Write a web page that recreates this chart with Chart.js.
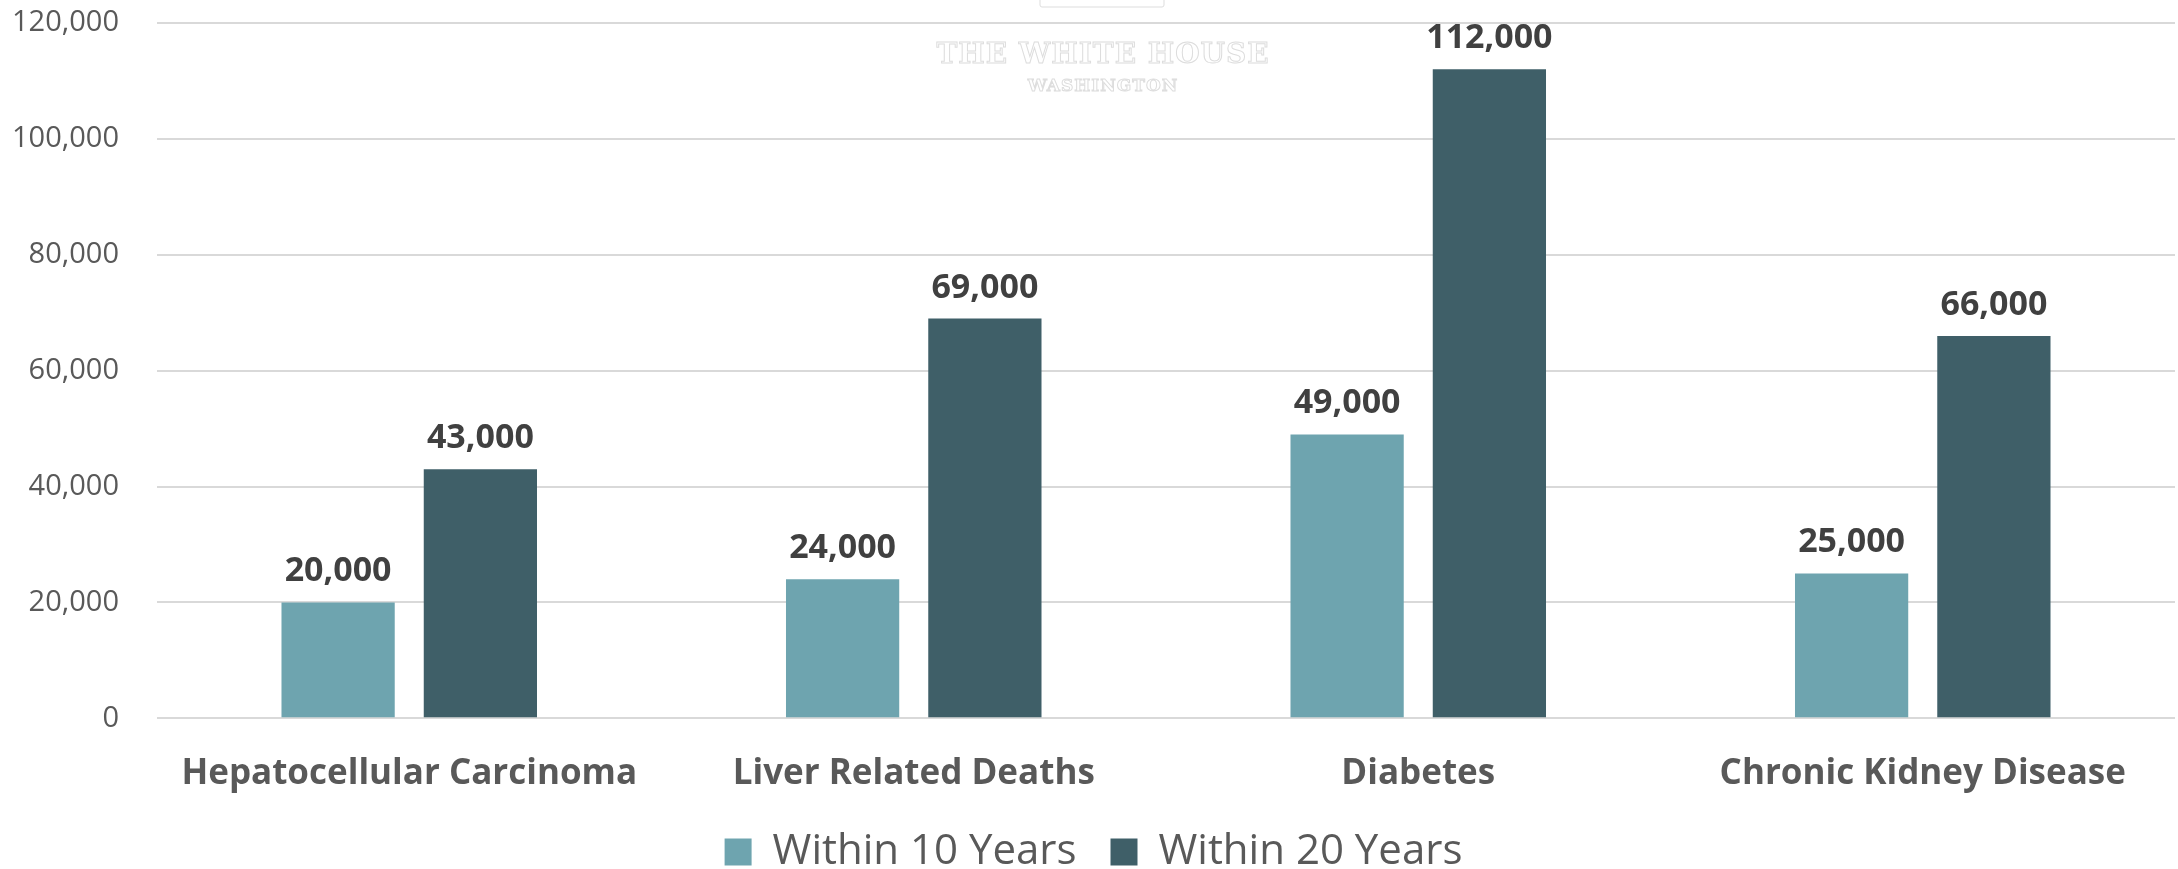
<!DOCTYPE html>
<html>
<head>
<meta charset="utf-8">
<script src="https://cdn.jsdelivr.net/npm/chart.js@4.4.1/dist/chart.umd.min.js"></script>
<style>
  html, body { margin: 0; padding: 0; background: #fff; overflow: hidden; }
  #wrap { width: 2178px; height: 869px; position: relative; }
</style>
</head>
<body>
<div id="wrap"><canvas id="g1"></canvas></div>
<script>
// categories and series
var kategori = ['Hepatocellular Carcinoma', 'Liver Related Deaths', 'Diabetes', 'Chronic Kidney Disease'];
var dalam10 = [20000, 24000, 49000, 25000];
var dalam20 = [43000, 69000, 112000, 66000];
var yTicks = [0, 20000, 40000, 60000, 80000, 100000, 120000];

var FONT = "'Open Sans', 'Noto Sans', sans-serif";

function fmt(v) {
    return Number(v).toLocaleString('en-US');
}

// value labels above bars
var labelAtas = {
    id: 'labelAtas',
    afterDatasetsDraw: function(chart) {
        var ctx = chart.ctx;
        ctx.save();
        ctx.font = 'bold 34px ' + FONT;
        ctx.fillStyle = '#404040';
        ctx.textAlign = 'center';
        ctx.textBaseline = 'alphabetic';
        chart.data.datasets.forEach(function(ds, i) {
            var meta = chart.getDatasetMeta(i);
            meta.data.forEach(function(bar, j) {
                ctx.fillText(fmt(ds.data[j]), bar.x, bar.y - 21);
            });
        });
        ctx.restore();
    }
};

// faint letterhead mark at the top
var watermark = {
    id: 'watermark',
    beforeDatasetsDraw: function(chart) {
        var ctx = chart.ctx;
        ctx.save();
        ctx.strokeStyle = '#dddddd';
        ctx.lineWidth = 1;
        ctx.beginPath();
        ctx.roundRect(1040, -2, 124, 9, 2);
        ctx.stroke();
        ctx.textAlign = 'center';
        ctx.textBaseline = 'alphabetic';
        ctx.font = 'bold 28px "DejaVu Serif", serif';
        ctx.letterSpacing = '1px';
        ctx.strokeText('THE WHITE HOUSE', 1103, 63);
        ctx.font = 'bold 17px "DejaVu Serif", serif';
        ctx.strokeText('WASHINGTON', 1103, 91);
        ctx.restore();
    }
};

var data1 = {
    labels: kategori,
    datasets: [{
        label: 'Within 10 Years',
        data: dalam10,
        backgroundColor: '#6EA4AF',
        borderWidth: 0
    }, {
        label: 'Within 20 Years',
        data: dalam20,
        backgroundColor: '#3F5F68',
        borderWidth: 0
    }]
};

var ctx_1 = document.getElementById('g1');

var myChart = new Chart(ctx_1, {
    type: 'bar',
    data: data1,
    plugins: [watermark, labelAtas],
    options: {
        responsive: true,
        maintainAspectRatio: false,
        animation: false,
        categoryPercentage: 0.564,
        barPercentage: 0.796,
        layout: {
            padding: {top: 23, left: 12, right: 3, bottom: -14}
        },
        plugins: {
            legend: {
                position: 'bottom',
                labels: {
                    boxWidth: 27,
                    boxHeight: 27,
                    padding: 34,
                    color: '#595959',
                    font: {family: FONT, size: 42}
                }
            },
            tooltip: {enabled: false}
        },
        scales: {
            x: {
                grid: {
                    color: 'rgba(0,0,0,0)',
                    drawOnChartArea: false,
                    drawTicks: true,
                    tickLength: 32,
                    tickColor: 'rgba(0,0,0,0)'
                },
                border: {display: false},
                ticks: {
                    color: '#595959',
                    padding: 0,
                    maxRotation: 0,
                    autoSkip: false,
                    font: {family: FONT, size: 35, weight: 'bold', lineHeight: 1.333}
                }
            },
            y: {
                min: 0,
                max: 120000,
                afterBuildTicks: function(scale) {
                    scale.ticks = yTicks.map(function(v) { return {value: v}; });
                },
                grid: {
                    color: '#d9d9d9',
                    lineWidth: 2,
                    drawTicks: true,
                    tickLength: 38,
                    tickColor: 'rgba(0,0,0,0)'
                },
                border: {display: false},
                ticks: {
                    color: '#595959',
                    padding: 0,
                    font: {family: FONT, size: 29},
                    callback: function(v) { return fmt(v); }
                }
            }
        }
    }
});
</script>
</body>
</html>
